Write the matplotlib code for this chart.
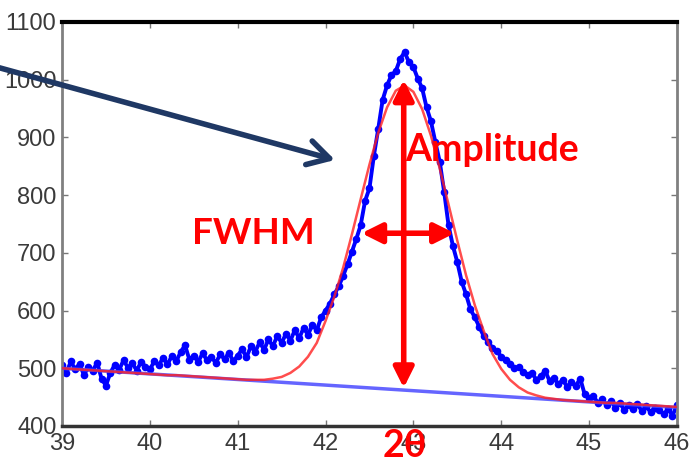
import numpy as np
import matplotlib.pyplot as plt
from matplotlib.patches import FancyArrowPatch

two_theta = np.round(np.arange(39.0, 46.0001, 0.05), 2)
counts = [
    505, 492, 512, 498, 508, 488, 503, 496, 510, 482,
    470, 492, 506, 497, 514, 501, 509, 496, 511, 503,
    498, 512, 505, 518, 507, 521, 512, 528, 540, 515,
    522, 511, 526, 514, 520, 509, 524, 516, 527, 512,
    522, 533, 519, 538, 529, 545, 532, 550, 538, 556,
    544, 560, 548, 566, 552, 570, 558, 575, 566, 588,
    600, 612, 628, 642, 660, 680, 702, 724, 748, 790,
    812, 868, 915, 965, 990, 1008, 1015, 1036, 1048, 1030,
    1022, 1002, 985, 952, 928, 892, 858, 806, 748, 712,
    684, 650, 628, 602, 588, 572, 556, 546, 535, 530,
    520, 514, 508, 500, 502, 494, 488, 492, 480, 486,
    496, 478, 484, 472, 480, 468, 476, 470, 482, 455,
    448, 452, 440, 446, 436, 444, 432, 440, 428, 436,
    430, 438, 426, 434, 424, 432, 428, 420, 430, 418,
    436,
]

# Fitted peak (red) sampled every 0.1 deg
fit_x = np.round(np.arange(39.0, 46.0001, 0.1), 1)
fit_y = [
    500, 499, 498, 497, 496, 495, 494, 493, 492, 491,
    490, 489, 488, 488, 487, 486, 485, 484, 483, 482,
    481, 480, 480, 480, 482, 485, 492, 503, 520, 544,
    582, 624, 674, 732, 793, 853, 908, 952, 981, 990,
    979, 949, 903, 846, 784, 721, 661, 609, 565, 525,
    499, 480, 467, 458, 453, 449, 447, 445, 444, 443,
    442, 441, 440, 440, 439, 438, 437, 436, 435, 434,
    433,
]

# Linear background
bg_x = [39.0, 46.0]
bg_y = [500, 432]

# Annotation positions
peak_pos = 42.89
amp_lo, amp_hi = 466, 1000
fwhm_lo, fwhm_hi, fwhm_level = 42.41, 43.47, 734

xticks = [39, 40, 41, 42, 43, 44, 45, 46]
yticks = [400, 500, 600, 700, 800, 900, 1000, 1100]

fig = plt.figure(figsize=(6.9, 4.65), dpi=100)
ax = fig.add_axes([0.0899, 0.0839, 0.8911, 0.8688])

ax.plot(two_theta, counts, '-o', color='#0000ff', lw=2.8, ms=5.5, mec='none', zorder=2)
ax.plot(bg_x, bg_y, color='#4a4aff', lw=2.5, alpha=0.85, zorder=3)
ax.plot(fit_x, fit_y, color='#ff2020', lw=1.8, alpha=0.8, zorder=4)

ax.set_xlim(39, 46)
ax.set_ylim(400, 1100)
ax.set_xticks(xticks)
ax.set_yticks(yticks)

for lab in ax.get_xticklabels() + ax.get_yticklabels():
    lab.set_family('Liberation Sans')
    lab.set_fontsize(17)
    lab.set_color('#3a3a3a')
ax.tick_params(direction='in', length=4, width=1, color='#777777',
               top=True, right=True)
ax.tick_params(axis='x', pad=5)
ax.tick_params(axis='y', pad=4)

ax.spines['top'].set_color('black')
ax.spines['top'].set_linewidth(3)
ax.spines['bottom'].set_color('#333333')
ax.spines['bottom'].set_linewidth(2.5)
ax.spines['left'].set_color('#808080')
ax.spines['left'].set_linewidth(2)
ax.spines['right'].set_color('#808080')
ax.spines['right'].set_linewidth(2)

red = '#ff0000'
head = dict(arrowstyle='<|-|>, head_length=0.6, head_width=0.3',
            color=red, lw=4, mutation_scale=20, shrinkA=0, shrinkB=0)
ax.annotate('', xy=(peak_pos, amp_hi), xytext=(peak_pos, amp_lo),
            arrowprops=head, zorder=6)
ax.annotate('', xy=(fwhm_hi, fwhm_level), xytext=(fwhm_lo, fwhm_level),
            arrowprops=head, zorder=6)

label_font = ['Lato', 'DejaVu Sans']
fig.text(0.587, 0.678, 'Amplitude', color=red, fontsize=27, fontweight='bold',
         family=label_font, ha='left', va='center')
fig.text(0.367, 0.497, 'FWHM', color=red, fontsize=26.5, fontweight='bold',
         family=label_font, ha='center', va='center')
fig.text(0.587, 0.041, '2θ', color=red, fontsize=27, fontweight='bold',
         family=label_font, ha='center', va='center')

# navy pointer arrow coming in from the left
pointer = FancyArrowPatch((-0.015, 0.860), (0.4855, 0.656),
                          transform=fig.transFigure,
                          arrowstyle='->, head_length=0.7, head_width=0.4',
                          mutation_scale=22, lw=4, color='#1f3864',
                          shrinkA=0, shrinkB=0, zorder=10)
fig.add_artist(pointer)

fig.savefig('out.png', dpi=100)
